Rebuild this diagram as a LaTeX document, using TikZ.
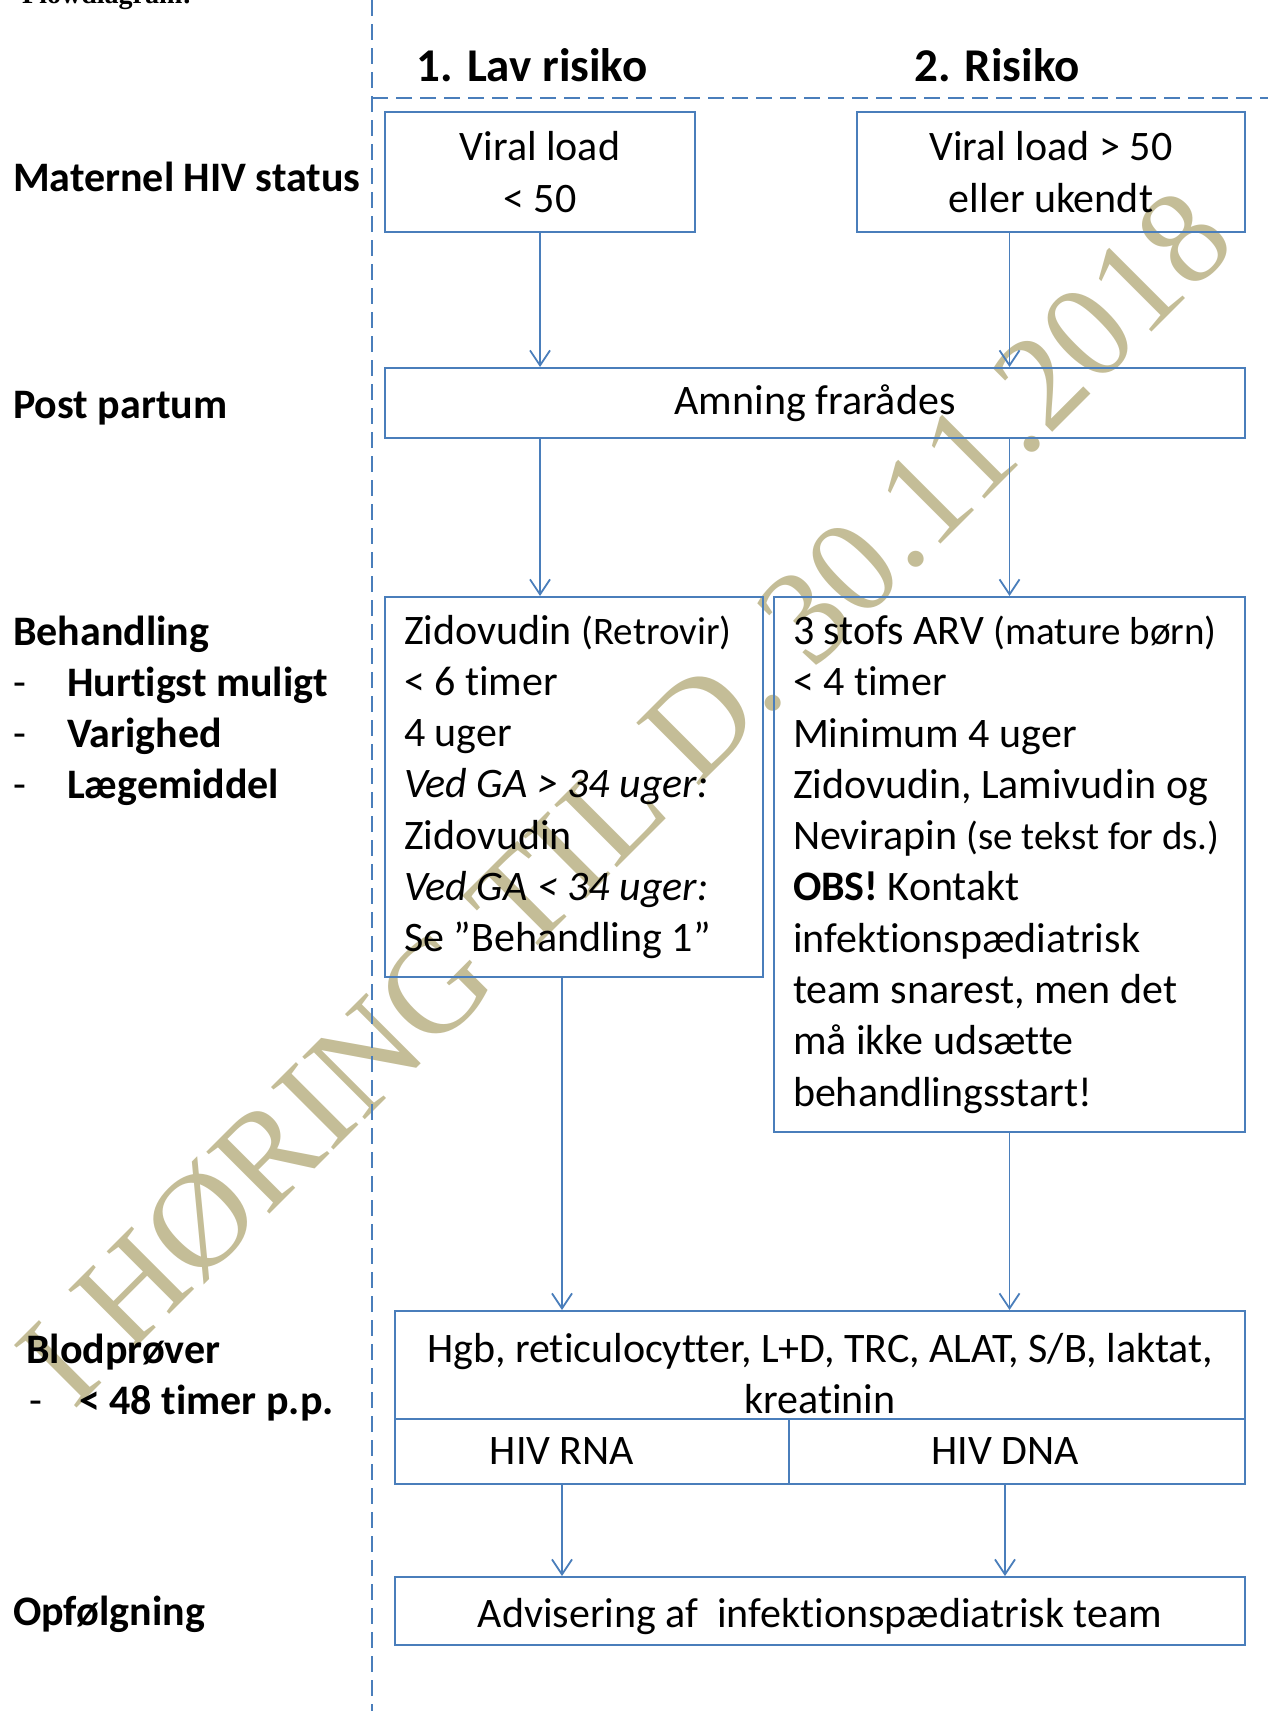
\documentclass[tikz,border=0pt]{standalone}
\usepackage{fontspec}
\setmainfont{Carlito}[Ligatures=CommonOff]
\newfontfamily\wmfont{Liberation Serif}
\usetikzlibrary{arrows.meta, positioning}
\definecolor{lineblue}{HTML}{4A7EBB}
\definecolor{wmtan}{HTML}{C4BD97}
\newcommand{\bodysize}{\fontsize{42}{51.3}\selectfont}
\newcommand{\notesize}{\fontsize{39}{51.3}\selectfont}

\begin{document}
\begin{tikzpicture}[
  x=1pt, y=-1pt,
  >={Straight Barb[length=15pt, width=20pt]},
  box/.style={draw=lineblue, line width=2pt, align=center, font=\bodysize, inner sep=0pt},
  listbox/.style={box, align=flush left, inner xsep=13pt},
  rowlabel/.style={anchor=base west, inner sep=0pt, font=\bodysize\bfseries},
  colhead/.style={inner sep=0pt, font=\fontsize{47}{56}\selectfont\bfseries},
  arr/.style={->, line width=1.8pt, lineblue},
  sepline/.style={lineblue, line width=2pt, dash pattern=on 16pt off 8pt},
]
\useasboundingbox (0,0) rectangle (1268,1711);

% Watermark, behind everything
\node[rotate=45, inner sep=0pt, text=wmtan, font=\wmfont\fontsize{135}{135}\selectfont]
  (watermark) at (625,797) {I HØRING TIL D. 30.11.2018};

% Heading cut off by the top edge
\node[anchor=base west, inner sep=0pt, font=\wmfont\bfseries\fontsize{28}{34}\selectfont]
  (pagehead) at (22,3.5) {Flowdiagram:};

% =============================================
% Separators and column headers
% =============================================
\draw[sepline] (372,0) -- (372,1711);
\draw[sepline] (372,98) -- (1268,98);

\node[colhead] (lowhead) at (532,65) {1. Lav risiko};
\node[colhead] (riskhead) at (997,65) {2. Risiko};

% =============================================
% Row labels
% =============================================
\node[rowlabel] (lblstatus) at (13,191) {Maternel HIV status};
\node[rowlabel] (lblpost) at (13,418) {Post partum};
\node[rowlabel] (lbltreat) at (13,645) {Behandling};
\foreach \txt [count=\i] in {Hurtigst muligt, Varighed, L\ae gemiddel}
  \node[rowlabel] (lbltreat\i) at (13,645+51.3*\i) {\makebox[54pt][l]{\mdseries -}\txt};
\node[rowlabel] (lblblood) at (26,1363) {Blodprøver};
\node[rowlabel] (lblblood1) at (29,1414) {\makebox[50pt][l]{\mdseries -}< 48 timer p.p.};
\node[rowlabel] (lblfollow) at (13,1625) {Opfølgning};

% =============================================
% Boxes
% =============================================
\node[box, minimum width=310pt, minimum height=120pt] (vlow) at (540,172)
  {Viral load\\< 50};
\node[box, minimum width=388pt, minimum height=120pt] (vhigh) at (1051,172)
  {Viral load > 50\\eller ukendt};

\node[box, minimum width=860pt, minimum height=70pt] (amning) at (815,403)
  {Amning frarådes};

\node[listbox, text width=352pt, minimum height=380pt] (zido) at (574,787)
  {\leftskip=6pt
   Zidovudin {\notesize(Retrovir)}\\
   < 6 timer\\
   4 uger\\
   \textit{Ved GA > 34 uger:}\\
   Zidovudin\\
   \textit{Ved GA < 34 uger:}\\
   Se ”Behandling 1”\par};

\node[listbox, text width=445pt, minimum height=535pt] (arv) at (1009.5,864.5)
  {\leftskip=6pt
   3 stofs ARV {\notesize(mature børn)}\\
   < 4 timer\\
   Minimum 4 uger\\
   Zidovudin, Lamivudin og\\
   Nevirapin {\notesize(se tekst for ds.)}\\
   \textbf{OBS!} Kontakt\\
   infektionspædiatrisk\\
   team snarest, men det\\
   må ikke udsætte\\
   behandlingsstart!\par};

\node[box, minimum width=850pt, minimum height=108pt] (blood) at (820,1365)
  {\rule{0pt}{46pt}Hgb, reticulocytter, L+D, TRC, ALAT, S/B, laktat,\\kreatinin};
\node[box, minimum width=394pt, minimum height=65pt] (rnacell) at (592,1451.5) {};
\node[box, minimum width=456pt, minimum height=65pt] (dnacell) at (1017,1451.5) {};
\node[font=\bodysize, inner sep=0pt] (rna) at (562,1451) {HIV RNA};
\node[font=\bodysize, inner sep=0pt] (dna) at (1005,1451) {HIV DNA};

\node[box, minimum width=850pt, minimum height=68pt] (advis) at (820,1611)
  {\rule{0pt}{40pt}Advisering af\ \ infektionspædiatrisk team};

% =============================================
% Arrows
% =============================================
\draw[arr] (vlow.south) -- (vlow.south |- amning.north);
\draw[arr] (vhigh.south -| arv.north) -- (amning.north -| arv.north);
\draw[arr] (amning.south -| vlow.south) -- (zido.north -| vlow.south);
\draw[arr] (amning.south -| arv.north) -- (arv.north);

\coordinate (zidodrop) at ([xshift=-12pt]zido.south);
\draw[arr] (zidodrop) -- (zidodrop |- blood.north);
\draw[arr] (arv.south) -- (arv.south |- blood.north);

\draw[arr] (rna |- rnacell.south) -- (rna |- advis.north);
\draw[arr] (dna |- dnacell.south) -- (dna |- advis.north);

\end{tikzpicture}
\end{document}
